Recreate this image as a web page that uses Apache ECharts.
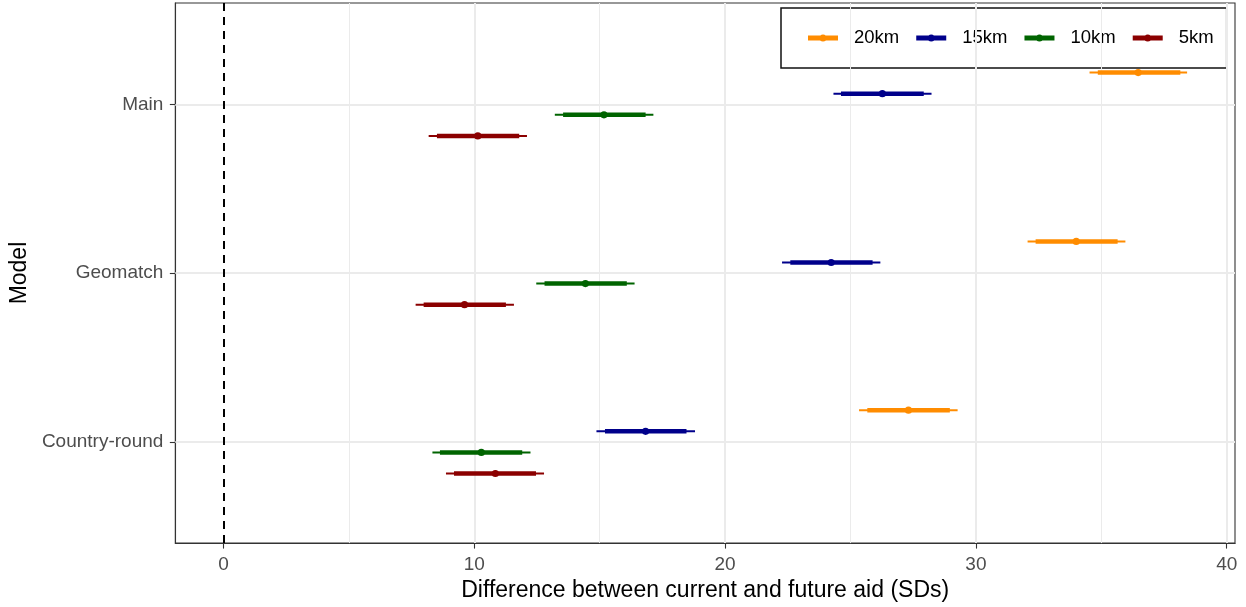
<!DOCTYPE html>
<html>
<head>
<meta charset="utf-8">
<script src="https://cdn.jsdelivr.net/npm/echarts@6/dist/echarts.min.js"></script>
<style>
  html, body { margin: 0; padding: 0; background: #fff; }
  #chart { width: 1246px; height: 607px; }
</style>
</head>
<body>
<div id="chart"></div>
<script>
// Models, bottom to top on the y axis (positions 1, 2, 3)
const models = ['Country-round', 'Geomatch', 'Main'];

// Distance bands, legend order
const bands = ['20km', '15km', '10km', '5km'];
const bandColors = ['#FF8C00', '#00008B', '#006400', '#8B0000'];
// vertical dodge of each band around its model row
const bandOffsets = [0.1875, 0.0625, -0.0625, -0.1875];

// Estimates and intervals per band, in model order [Country-round, Geomatch, Main]
const est20 = [27.31, 34.00, 36.47];
const lo90_20 = [25.67, 32.38, 34.86];
const hi90_20 = [28.96, 35.65, 38.15];
const lo95_20 = [25.34, 32.06, 34.53];
const hi95_20 = [29.27, 35.96, 38.42];

const est15 = [16.83, 24.23, 26.27];
const lo90_15 = [15.21, 22.60, 24.62];
const hi90_15 = [18.46, 25.88, 27.92];
const lo95_15 = [14.87, 22.27, 24.32];
const hi95_15 = [18.80, 26.19, 28.23];

const est10 = [10.28, 14.43, 15.17];
const lo90_10 = [8.63, 12.80, 13.54];
const hi90_10 = [11.91, 16.08, 16.83];
const lo95_10 = [8.33, 12.47, 13.21];
const hi95_10 = [12.24, 16.39, 17.14];

const est5 = [10.84, 9.61, 10.14];
const lo90_5 = [9.19, 7.98, 8.51];
const hi90_5 = [12.46, 11.26, 11.79];
const lo95_5 = [8.87, 7.66, 8.18];
const hi95_5 = [12.78, 11.58, 12.10];

// Axis ticks
const xTicks = [0, 10, 20, 30, 40];
const xMinorTicks = [5, 15, 25, 35];
const yTicks = [1, 2, 3];

const bandData = [
  [est20, lo90_20, hi90_20, lo95_20, hi95_20],
  [est15, lo90_15, hi90_15, lo95_15, hi95_15],
  [est10, lo90_10, hi90_10, lo95_10, hi95_10],
  [est5, lo90_5, hi90_5, lo95_5, hi95_5]
];

const FONT = '"Liberation Sans", Arial, Helvetica, sans-serif';

function makeRender(color) {
  return function (params, api) {
    const y = api.value(0);
    const a95 = api.coord([api.value(1), y]);
    const b95 = api.coord([api.value(5), y]);
    const a90 = api.coord([api.value(2), y]);
    const b90 = api.coord([api.value(4), y]);
    const p = api.coord([api.value(3), y]);
    return {
      type: 'group',
      children: [
        { type: 'line', shape: { x1: a95[0], y1: a95[1], x2: b95[0], y2: b95[1] },
          style: { stroke: color, lineWidth: 2 } },
        { type: 'line', shape: { x1: a90[0], y1: a90[1], x2: b90[0], y2: b90[1] },
          style: { stroke: color, lineWidth: 4.5 } },
        { type: 'circle', shape: { cx: p[0], cy: p[1], r: 3.6 },
          style: { fill: color } }
      ]
    };
  };
}

const intervalSeries = bands.map((name, b) => {
  const [est, lo90, hi90, lo95, hi95] = bandData[b];
  const data = models.map((m, i) => [i + 1 + bandOffsets[b], lo95[i], lo90[i], est[i], hi90[i], hi95[i]]);
  return {
    name: name,
    type: 'custom',
    z: 5,
    itemStyle: { color: bandColors[b] },
    renderItem: makeRender(bandColors[b]),
    encode: { x: [1, 2, 3, 4, 5], y: 0 },
    data: data
  };
});

// Panel grid lines and the reference line at zero
const gridSeries = {
  type: 'line',
  data: [],
  z: 1,
  silent: true,
  markLine: {
    silent: true,
    symbol: 'none',
    label: { show: false },
    animation: false,
    data: [
      ...xMinorTicks.map(v => ({ xAxis: v, lineStyle: { color: '#EBEBEB', width: 1, type: 'solid' } })),
      ...xTicks.filter(v => v !== 0).map(v => ({ xAxis: v, lineStyle: { color: '#EBEBEB', width: 2, type: 'solid' } })),
      ...yTicks.map(v => ({ yAxis: v, lineStyle: { color: '#EBEBEB', width: 2, type: 'solid' } }))
    ]
  }
};
const zeroSeries = {
  type: 'line',
  data: [],
  z: 3,
  silent: true,
  markLine: {
    silent: true,
    symbol: 'none',
    label: { show: false },
    animation: false,
    data: [{ xAxis: 0, lineStyle: { color: '#000', width: 2, type: [8, 6] } }]
  }
};

const legendIcon = 'path://M0,1 L30,1 L30,6 L0,6 Z M11.5,3.5 A3.5,3.5 0 1,1 18.5,3.5 A3.5,3.5 0 1,1 11.5,3.5 Z';

const axisLineStyle = { color: '#333', width: 1.1 };

const option = {
  animation: false,
  backgroundColor: '#fff',
  textStyle: { fontFamily: FONT },
  grid: {
    left: 174, right: 11, top: 3, bottom: 60,
    show: true, borderColor: '#333', borderWidth: 1.1, backgroundColor: '#fff'
  },
  legend: {
    data: bands.map((name, b) => ({ name: name, icon: legendIcon, itemStyle: { color: bandColors[b] } })),
    left: 781, top: 8,
    padding: [20, 13, 20, 27],
    itemWidth: 30, itemHeight: 7, itemGap: 17,
    backgroundColor: '#fff', borderColor: '#111', borderWidth: 1.5, borderRadius: 0,
    selectedMode: false,
    textStyle: { fontFamily: FONT, fontSize: 18.5, color: '#000', lineHeight: 20, padding: [0, 0, 0, 11] }
  },
  xAxis: {
    type: 'value',
    min: -1.92, max: 40.33,
    name: 'Difference between current and future aid (SDs)',
    nameLocation: 'middle', nameGap: 35,
    nameTextStyle: { fontFamily: FONT, fontSize: 23, color: '#000' },
    axisLine: { show: true, onZero: false, lineStyle: axisLineStyle },
    axisTick: { show: true, inside: false, length: 5.5, lineStyle: axisLineStyle, customValues: xTicks },
    axisLabel: { fontFamily: FONT, fontSize: 19, color: '#4D4D4D', margin: 12, customValues: xTicks },
    splitLine: { show: false }
  },
  yAxis: {
    type: 'value',
    min: 0.4, max: 3.6,
    name: 'Model',
    nameLocation: 'middle', nameGap: 134, nameRotate: 90,
    nameTextStyle: { fontFamily: FONT, fontSize: 23, color: '#000' },
    axisLine: { show: true, onZero: false, lineStyle: axisLineStyle },
    axisTick: { show: true, inside: false, length: 5.5, lineStyle: axisLineStyle, customValues: yTicks },
    axisLabel: {
      fontFamily: FONT, fontSize: 19, color: '#4D4D4D', margin: 12, customValues: yTicks,
      formatter: v => models[Math.round(v) - 1]
    },
    splitLine: { show: false }
  },
  series: [gridSeries, zeroSeries, ...intervalSeries]
};

const chart = echarts.init(document.getElementById('chart'), null, { renderer: 'canvas' });
chart.setOption(option);
</script>
</body>
</html>
